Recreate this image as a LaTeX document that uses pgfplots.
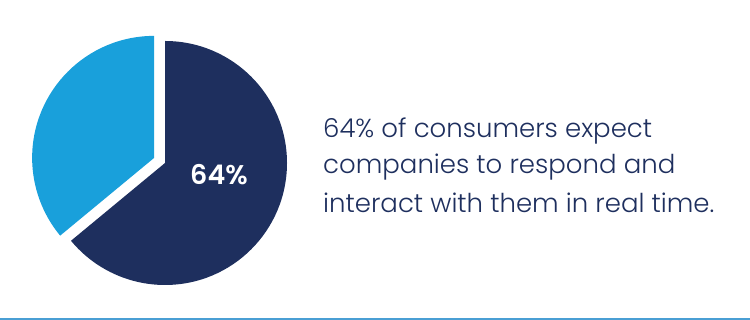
\documentclass[border=0pt]{standalone}
\usepackage{pgfplots}
\pgfplotsset{compat=1.18}
\usepackage{pgfplotstable}
\usetikzlibrary{calc}
\usepackage{fontspec}
\setmainfont{Poppins}[UprightFont=* Light]
\newfontfamily\lab{Poppins}[UprightFont=* SemiBold]
\definecolor{navy}{HTML}{1E2F5E}
\definecolor{sky}{HTML}{19A0DB}
\definecolor{rule}{HTML}{4A9FD4}
\pgfplotstableread{
share
64
36
}\pietable
\begin{document}
\begin{tikzpicture}[x=1pt,y=1pt]
\path[use as bounding box] (0,0) rectangle (750,320);
\pgfplotstablegetelem{0}{share}\of\pietable \let\shA\pgfplotsretval
\pgfplotstablegetelem{1}{share}\of\pietable \let\shB\pgfplotsretval
\pgfmathsetmacro{\angA}{90-\shA*3.6}
\pgfmathsetmacro{\angB}{90+\shB*3.6}
\pgfmathsetmacro{\midB}{90+\shB*1.8}
\begin{axis}[
  at={(165pt,157pt)}, anchor=origin,
  scale only axis, width=300pt, height=300pt,
  xmin=-150, xmax=150, ymin=-150, ymax=150,
  axis lines=none, clip=false]
\fill[navy] (axis cs:0,0) -- (axis cs:0,122) arc[start angle=90, end angle=\angA, radius=122pt] -- cycle;
\fill[sky] ($(axis cs:0,0)+(\midB:12pt)$) -- ++(90:122pt) arc[start angle=90, end angle=\angB, radius=122pt] -- cycle;
\node[text=white, font=\lab\fontsize{27}{30}\selectfont] at (axis cs:54,-12) {64\%};
\end{axis}
\draw[rule, line width=1.5pt] (0,1) -- (750,1);
\node[anchor=base west, text=navy, font=\fontsize{26}{30}\selectfont, inner sep=0pt] at (323,182) {64\% of consumers expect};
\node[anchor=base west, text=navy, font=\fontsize{26}{30}\selectfont, inner sep=0pt] at (323,146) {companies to respond and};
\node[anchor=base west, text=navy, font=\fontsize{26}{30}\selectfont, inner sep=0pt] at (323,107) {interact with them in real time.};
\end{tikzpicture}
\end{document}
